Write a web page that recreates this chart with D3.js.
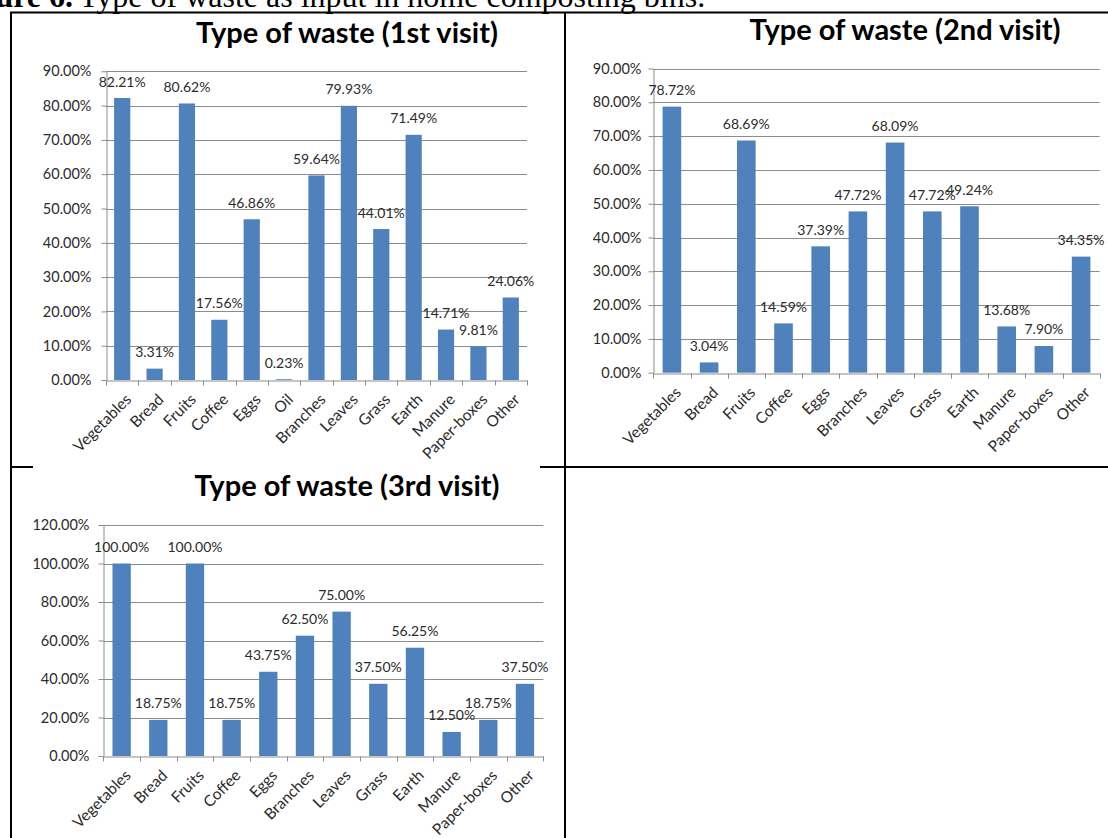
<!DOCTYPE html>
<html><head><meta charset="utf-8">
<script src="https://cdn.jsdelivr.net/npm/d3@7/dist/d3.min.js"></script>
<style>body{margin:0;background:#fff}svg{display:block}</style>
</head><body>
<svg id="c" width="1108" height="838"></svg>
<script>
// ---------- data ----------
const captionBold = "Figure 6.";
const captionText = "Type of waste as input in home composting bins.";

const title1 = "Type of waste (1st visit)";
const categories1 = ["Vegetables","Bread","Fruits","Coffee","Eggs","Oil","Branches","Leaves","Grass","Earth","Manure","Paper-boxes","Other"];
const values1 = [82.21, 3.31, 80.62, 17.56, 46.86, 0.23, 59.64, 79.93, 44.01, 71.49, 14.71, 9.81, 24.06];
const yTicks1 = [0,10,20,30,40,50,60,70,80,90];

const title2 = "Type of waste (2nd visit)";
const categories2 = ["Vegetables","Bread","Fruits","Coffee","Eggs","Branches","Leaves","Grass","Earth","Manure","Paper-boxes","Other"];
const values2 = [78.72, 3.04, 68.69, 14.59, 37.39, 47.72, 68.09, 47.72, 49.24, 13.68, 7.90, 34.35];
const yTicks2 = [0,10,20,30,40,50,60,70,80,90];

const title3 = "Type of waste (3rd visit)";
const categories3 = ["Vegetables","Bread","Fruits","Coffee","Eggs","Branches","Leaves","Grass","Earth","Manure","Paper-boxes","Other"];
const values3 = [100, 18.75, 100, 18.75, 43.75, 62.50, 75.00, 37.50, 56.25, 12.50, 18.75, 37.50];
const yTicks3 = [0,20,40,60,80,100,120];

// ---------- drawing ----------
const BAR = "#4F81BD", GRID = "#8c8c8c", TXT = "#2b2b2b";
const FONT = "Lato, 'Open Sans', sans-serif";
const svg = d3.select("#c");
svg.append("rect").attr("width",1108).attr("height",838).attr("fill","#fff");

// caption (clipped at top of page, as in the source)
svg.append("text").attr("x",73).attr("y",7).attr("text-anchor","end")
  .attr("font-family","'Liberation Serif', 'Times New Roman', serif").attr("font-size",32)
  .attr("font-weight","bold").attr("fill","#000").text(captionBold);
svg.append("text").attr("x",79).attr("y",7)
  .attr("font-family","'Liberation Serif', 'Times New Roman', serif").attr("font-size",32)
  .attr("fill","#000").text(captionText);

// table borders
const tbl = svg.append("g").attr("stroke","#000").attr("stroke-width",2).attr("fill","none");
tbl.append("line").attr("x1",10).attr("x2",1108).attr("y1",12.5).attr("y2",12.5);
tbl.append("line").attr("x1",11).attr("x2",11).attr("y1",12).attr("y2",838);
tbl.append("line").attr("x1",565).attr("x2",565).attr("y1",12).attr("y2",838);
tbl.append("line").attr("x1",10).attr("x2",1108).attr("y1",467).attr("y2",467);

function drawChart(cfg){
  const g = svg.append("g");
  if (cfg.bg) g.append("rect").attr("x",cfg.bg[0]).attr("y",cfg.bg[1])
      .attr("width",cfg.bg[2]).attr("height",cfg.bg[3]).attr("fill","#fff");
  const x = d3.scaleBand().domain(cfg.cats).range([cfg.x0,cfg.x1]).padding(0);
  const y = d3.scaleLinear().domain([0,cfg.ymax]).range([cfg.yb,cfg.yt]);
  const bw = x.bandwidth();

  // title
  g.append("text").attr("x",cfg.tx).attr("y",cfg.ty).attr("text-anchor","middle")
    .attr("font-family",FONT).attr("font-weight","bold").attr("font-size",29)
    .attr("fill","#000").text(cfg.title);

  // gridlines
  g.append("g").selectAll("line").data(cfg.ticks.filter(d=>d>0)).join("line")
    .attr("x1",cfg.x0).attr("x2",cfg.x1).attr("y1",d=>Math.round(y(d))+0.5).attr("y2",d=>Math.round(y(d))+0.5)
    .attr("stroke",GRID).attr("stroke-width",1);

  // y axis
  const ya = g.append("g").attr("transform",`translate(${Math.round(cfg.x0)+0.5},0)`)
    .call(d3.axisLeft(y).tickValues(cfg.ticks).tickFormat(d=>d.toFixed(2)+"%").tickSize(5).tickSizeOuter(0).tickPadding(cfg.pad));
  ya.select(".domain").attr("stroke",GRID);
  ya.selectAll(".tick line").attr("stroke",GRID);
  ya.selectAll("text").attr("font-family",FONT).attr("font-size",14.5).attr("fill",TXT);

  // bars
  g.append("g").selectAll("rect").data(cfg.vals).join("rect")
    .attr("x",(d,i)=>x(cfg.cats[i])+bw*0.25).attr("width",bw*0.5)
    .attr("y",d=>y(d)).attr("height",d=>y(0)-y(d)).attr("fill",BAR);

  // data labels
  g.append("g").selectAll("text").data(cfg.vals).join("text")
    .attr("x",(d,i)=>x(cfg.cats[i])+bw/2).attr("y",d=>y(d)-11.5)
    .attr("text-anchor","middle").attr("font-family",FONT).attr("font-size",14).attr("fill",TXT)
    .text(d=>d.toFixed(2)+"%");

  // x axis
  const xa = g.append("g").attr("transform",`translate(0,${Math.round(cfg.yb)+0.5})`)
    .call(d3.axisBottom(x).tickSize(0).tickSizeOuter(0).tickPadding(0));
  xa.select(".domain").attr("stroke",GRID);
  xa.selectAll(".tick text")
    .attr("font-family",FONT).attr("font-size",15.5).attr("fill",TXT)
    .attr("text-anchor","end").attr("dy",0).attr("y",0)
    .attr("transform","translate(10,20) rotate(-45)");
  // boundary tick marks
  const bounds = cfg.cats.map(c=>x(c)).concat([cfg.x1]);
  xa.append("g").selectAll("line").data(bounds).join("line")
    .attr("x1",d=>Math.round(d)+0.5).attr("x2",d=>Math.round(d)+0.5).attr("y1",0).attr("y2",5)
    .attr("stroke",GRID);
}

drawChart({cats:categories1, vals:values1, ticks:yTicks1, ymax:90, title:title1,
  x0:106, x1:527, yb:380, yt:71.3, tx:347, ty:43, pad:10});
drawChart({cats:categories2, vals:values2, ticks:yTicks2, ymax:90, title:title2,
  x0:653.3, x1:1099.7, yb:372.7, yt:68.5, tx:905, ty:40, pad:7});
drawChart({cats:categories3, vals:values3, ticks:yTicks3, ymax:120, title:title3,
  x0:103.3, x1:543.3, yb:756, yt:525, tx:347, ty:496, pad:9, bg:[33,462,507,376]});
</script>
</body></html>
